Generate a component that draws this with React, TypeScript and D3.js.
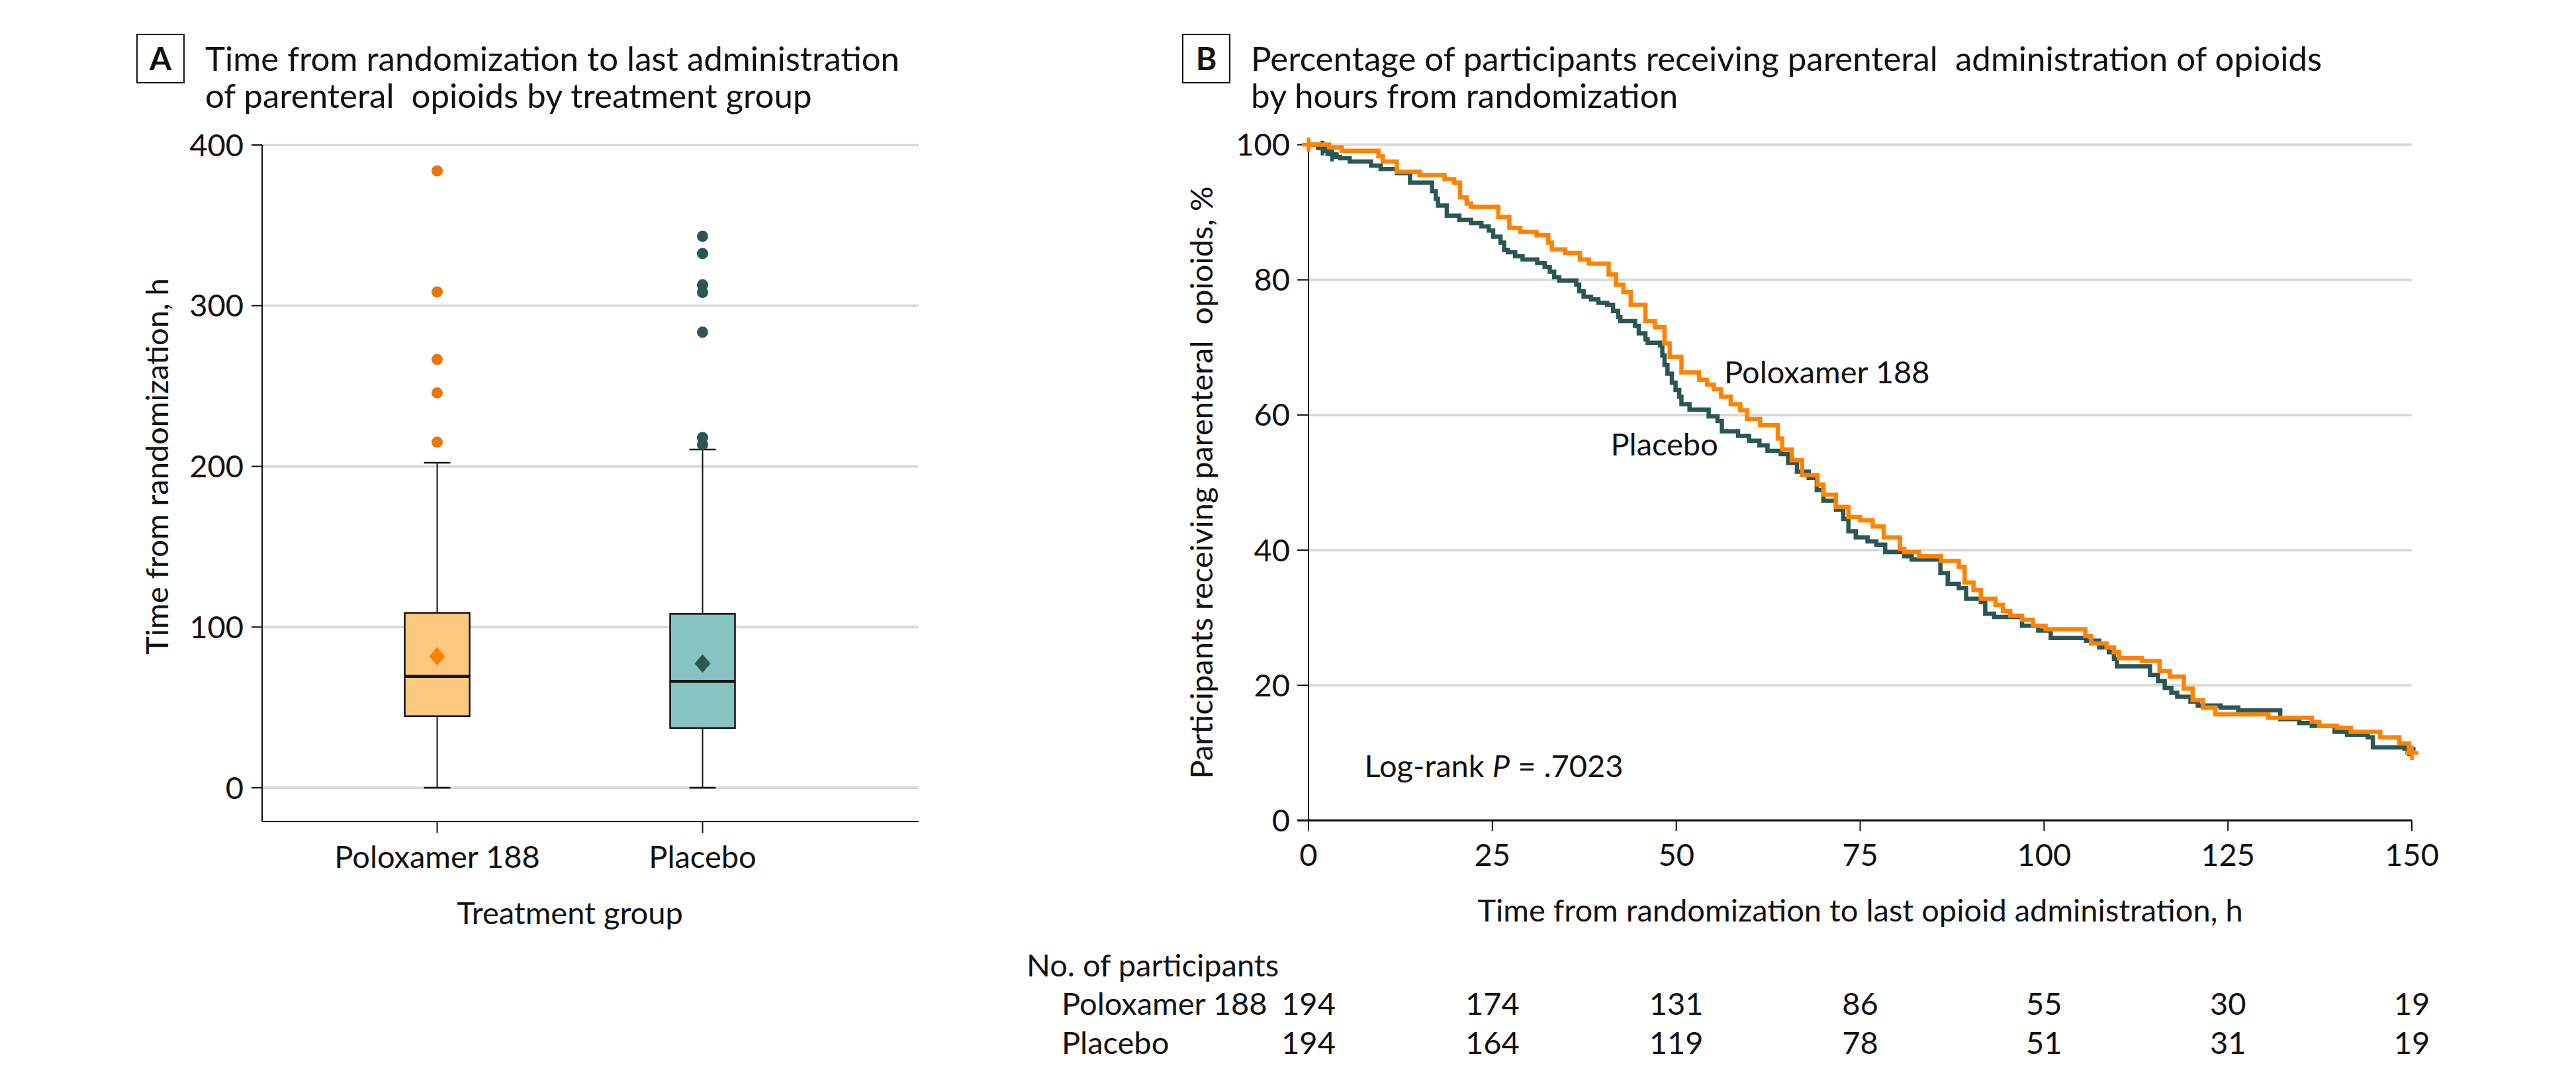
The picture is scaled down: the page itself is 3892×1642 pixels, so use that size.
import React from "react";
import * as d3 from "d3";

const W = 3892;
const H = 1642;
const FONT = "Lato, 'Open Sans', sans-serif";

// ---------- Panel A data ----------
const groups = ["Poloxamer 188", "Placebo"];
const q1 = [44.6, 37.2];
const medians = [69.3, 66.2];
const q3 = [108.8, 108.2];
const whiskerLow = [0, 0];
const whiskerHigh = [202.3, 210.5];
const means = [81.8, 77.3];
const outliersPolox = [383.8, 308.5, 266.5, 245.7, 215.0];
const outliersPlacebo = [343.2, 332.4, 313.0, 308.2, 283.5, 217.9, 213.6];
const yTicksA = [0, 100, 200, 300, 400];

// ---------- Panel B data ----------
const polTimes = [0, 2.8, 4.5, 9.5, 10.1, 12.0, 15.1, 18.5, 19.8, 20.6, 21.5, 22.1, 25.8, 27.3, 28.8, 31.0, 32.6, 33.1, 34.9, 36.9, 38.1, 40.8, 41.8, 42.8, 43.8, 45.8, 47.1, 48.4, 49.1, 50.7, 53.1, 54.2, 55.1, 56.1, 57.4, 58.7, 59.6, 61.4, 63.8, 64.4, 65.7, 67.1, 69.2, 70.0, 71.7, 73.4, 75.0, 76.7, 78.2, 80.4, 81.0, 83.0, 86.0, 88.4, 89.2, 90.4, 91.4, 93.4, 94.4, 95.4, 97.0, 98.5, 100.2, 105.6, 106.4, 108.5, 109.5, 110.2, 113.3, 115.7, 117.1, 119.0, 120.2, 121.6, 123.3, 130.5, 136.4, 137.4, 139.8, 141.7, 145.7, 148.3, 149.6];
const polPct = [100, 99.6, 99.1, 98.3, 97.5, 96.0, 95.5, 94.9, 94.4, 92.2, 91.3, 90.8, 89.3, 87.7, 87.1, 86.6, 85.5, 84.5, 84.0, 83.0, 82.4, 80.8, 79.3, 78.2, 76.3, 73.9, 73.0, 70.6, 68.6, 66.3, 65.2, 64.5, 63.8, 62.7, 61.6, 60.7, 59.4, 58.5, 56.5, 54.9, 53.3, 51.1, 49.7, 48.2, 46.4, 44.9, 44.4, 43.5, 41.9, 40.2, 39.7, 39.1, 38.4, 37.5, 35.2, 34.1, 32.8, 31.9, 31.0, 30.3, 29.7, 28.8, 28.3, 27.3, 26.2, 25.6, 24.9, 24.0, 23.6, 22.1, 21.3, 19.5, 17.8, 16.7, 15.7, 15.2, 14.6, 14.0, 13.7, 13.1, 12.3, 11.4, 10.0];
const plaTimes = [0, 1.5, 2.4, 3.0, 3.6, 4.3, 5.6, 8.5, 9.8, 12.0, 13.8, 16.8, 17.3, 17.6, 18.8, 20.5, 22.1, 23.5, 24.5, 25.1, 26.1, 26.6, 27.1, 28.1, 29.1, 31.1, 32.1, 32.8, 33.4, 34.1, 36.4, 36.8, 37.4, 38.4, 39.4, 40.6, 41.4, 42.1, 42.4, 44.4, 44.9, 45.8, 46.1, 47.8, 48.1, 48.4, 48.8, 49.4, 49.9, 50.4, 50.7, 51.8, 54.4, 55.6, 56.2, 58.4, 59.9, 61.3, 62.4, 64.2, 65.2, 66.4, 68.0, 69.1, 70.0, 71.7, 72.7, 73.4, 74.4, 76.0, 77.2, 78.4, 81.0, 82.0, 85.9, 86.9, 88.4, 89.4, 91.4, 92.0, 93.2, 97.0, 99.2, 100.9, 105.7, 107.5, 108.8, 109.5, 109.9, 114.4, 115.5, 116.4, 117.3, 118.1, 119.9, 120.9, 124.0, 126.4, 132.1, 134.7, 136.4, 139.5, 141.2, 144.0, 144.7, 149.1];
const plaPct = [100, 99.5, 99.1, 98.6, 98.2, 98.0, 97.5, 96.9, 96.4, 95.8, 94.4, 93.1, 92.0, 91.0, 89.5, 88.9, 88.4, 87.9, 87.3, 86.4, 85.5, 84.4, 84.1, 83.5, 83.0, 82.5, 81.9, 81.2, 80.4, 79.9, 79.3, 78.3, 77.5, 77.1, 76.6, 76.3, 75.4, 74.5, 73.9, 73.2, 72.1, 71.2, 70.7, 70.3, 68.8, 67.4, 66.1, 64.8, 63.7, 62.7, 61.6, 60.8, 59.8, 59.1, 57.6, 56.9, 56.2, 55.5, 54.7, 54.2, 52.9, 51.6, 50.7, 48.9, 47.3, 46.0, 44.6, 42.8, 41.9, 41.3, 40.8, 39.7, 39.1, 38.6, 36.6, 35.0, 34.4, 32.8, 32.3, 30.6, 30.1, 28.8, 28.1, 27.0, 26.6, 25.6, 24.9, 23.9, 22.8, 21.5, 20.6, 19.6, 18.9, 18.3, 17.6, 17.0, 16.7, 16.3, 15.0, 14.4, 14.0, 13.1, 12.7, 12.3, 10.8, 10.6];
const polCensor = [0, 150];
const plaCensor = [1.9, 3.2, 149.6];
const xTicksB = [0, 25, 50, 75, 100, 125, 150];
const yTicksB = [0, 20, 40, 60, 80, 100];
const riskPolox = [194, 174, 131, 86, 55, 30, 19];
const riskPlacebo = [194, 164, 119, 78, 51, 31, 19];

// ---------- colours ----------
const ORANGE = "#FF8200";
const ORANGE_DOT = "#E8760E";
const ORANGE_FILL = "#FFC87F";
const TEAL = "#2A5753";
const TEAL_FILL = "#86C3C1";
const GRID = "#D9D9D9";
const INK = "#111";

function stepValue(times: number[], pcts: number[], t: number) {
  let v = pcts[0];
  for (let i = 0; i < times.length; i++) if (times[i] <= t) v = pcts[i];
  return v;
}

export default function App() {
  // Panel A scales
  const yA = d3.scaleLinear().domain([0, 400]).range([1190, 219]);
  const xA = d3.scalePoint<string>().domain(groups).range([660.5, 1061.5]);
  const A_LEFT = 396, A_RIGHT = 1388, A_BOTTOM = 1241;
  const boxW = 98, capW = 40;
  const fills = [ORANGE_FILL, TEAL_FILL];
  const dotCols = [ORANGE_DOT, TEAL];
  const meanCols = [ORANGE, TEAL];
  const outliers = [outliersPolox, outliersPlacebo];

  // Panel B scales
  const xB = d3.scaleLinear().domain([0, 150]).range([1977, 3644]);
  const yB = d3.scaleLinear().domain([0, 100]).range([1239.3, 218.6]);
  const line = d3
    .line<[number, number]>()
    .x((d) => xB(d[0]))
    .y((d) => yB(d[1]))
    .curve(d3.curveStepAfter);
  const polPts: [number, number][] = polTimes.map((t, i) => [t, polPct[i]]);
  polPts.push([150, polPct[polPct.length - 1]]);
  const plaPts: [number, number][] = plaTimes.map((t, i) => [t, plaPct[i]]);
  plaPts.push([150, plaPct[plaPct.length - 1]]);

  const plus = (cx: number, cy: number, col: string, key: string) => (
    <g key={key} stroke={col} strokeWidth={5.5}>
      <line x1={cx - 10} x2={cx + 10} y1={cy} y2={cy} />
      <line x1={cx} x2={cx} y1={cy - 11} y2={cy + 11} />
    </g>
  );

  const diamond = (cx: number, cy: number) =>
    `M${cx},${cy - 14}L${cx + 12},${cy}L${cx},${cy + 14}L${cx - 12},${cy}Z`;

  return (
    <svg
      width={W}
      height={H}
      viewBox={`0 0 ${W} ${H}`}
      style={{ position: "absolute", left: 0, top: 0, background: "#fff" }}
      fontFamily={FONT}
    >
      <rect x={0} y={0} width={W} height={H} fill="#fff" />

      {/* ===== Panel A ===== */}
      <rect x={207} y={52} width={71} height={73} fill="none" stroke={INK} strokeWidth={2} />
      <text x={242.5} y={106} textAnchor="middle" fontSize={48} fontWeight={700} fill={INK}>A</text>
      <text x={310} y={107} fontSize={51} fill={INK} style={{ whiteSpace: "pre" }}>
        Time from randomization to last administration
      </text>
      <text x={310} y={163} fontSize={51} fill={INK} style={{ whiteSpace: "pre" }}>
        {"of parenteral  opioids by treatment group"}
      </text>

      {yTicksA.map((t) => (
        <g key={"ga" + t}>
          <line x1={A_LEFT} x2={A_RIGHT} y1={yA(t)} y2={yA(t)} stroke={GRID} strokeWidth={4} />
          <line x1={A_LEFT - 16} x2={A_LEFT} y1={yA(t)} y2={yA(t)} stroke={INK} strokeWidth={2} />
          <text x={368} y={yA(t) + 16.5} textAnchor="end" fontSize={47} fill={INK}>{t}</text>
        </g>
      ))}
      <line x1={A_LEFT} x2={A_LEFT} y1={yA(400)} y2={A_BOTTOM} stroke={INK} strokeWidth={2} />
      <line x1={A_LEFT} x2={A_RIGHT} y1={A_BOTTOM} y2={A_BOTTOM} stroke={INK} strokeWidth={2} />

      {groups.map((g, i) => {
        const cx = xA(g) as number;
        return (
          <g key={"box" + g}>
            <line x1={cx} x2={cx} y1={A_BOTTOM} y2={A_BOTTOM + 17} stroke={INK} strokeWidth={2} />
            <text x={cx} y={1311} textAnchor="middle" fontSize={47} fill={INK}>{g}</text>
            <line x1={cx} x2={cx} y1={yA(whiskerLow[i])} y2={yA(q1[i])} stroke={INK} strokeWidth={2} />
            <line x1={cx} x2={cx} y1={yA(q3[i])} y2={yA(whiskerHigh[i])} stroke={INK} strokeWidth={2} />
            <line x1={cx - capW / 2} x2={cx + capW / 2} y1={yA(whiskerLow[i])} y2={yA(whiskerLow[i])} stroke={INK} strokeWidth={2.5} />
            <line x1={cx - capW / 2} x2={cx + capW / 2} y1={yA(whiskerHigh[i])} y2={yA(whiskerHigh[i])} stroke={INK} strokeWidth={2.5} />
            <rect
              x={cx - boxW / 2}
              y={yA(q3[i])}
              width={boxW}
              height={yA(q1[i]) - yA(q3[i])}
              fill={fills[i]}
              stroke={INK}
              strokeWidth={2.5}
            />
            <line x1={cx - boxW / 2} x2={cx + boxW / 2} y1={yA(medians[i])} y2={yA(medians[i])} stroke={INK} strokeWidth={4.5} />
            <path d={diamond(cx, yA(means[i]))} fill={meanCols[i]} />
            {outliers[i].map((v, j) => (
              <circle key={j} cx={cx} cy={yA(v)} r={8.5} fill={dotCols[i]} />
            ))}
          </g>
        );
      })}
      <text x={861} y={1396} textAnchor="middle" fontSize={47} fill={INK}>Treatment group</text>
      <text
        transform={`translate(254, ${(yA(0) + yA(400)) / 2}) rotate(-90)`}
        textAnchor="middle"
        fontSize={47}
        fill={INK}
      >
        Time from randomization, h
      </text>

      {/* ===== Panel B ===== */}
      <rect x={1787} y={52} width={71} height={73} fill="none" stroke={INK} strokeWidth={2} />
      <text x={1822.5} y={106} textAnchor="middle" fontSize={48} fontWeight={700} fill={INK}>B</text>
      <text x={1890} y={107} fontSize={51} fill={INK} style={{ whiteSpace: "pre" }}>
        {"Percentage of participants receiving parenteral  administration of opioids"}
      </text>
      <text x={1890} y={163} fontSize={51} fill={INK}>by hours from randomization</text>

      {yTicksB.map((t) => (
        <g key={"gb" + t}>
          <line x1={xB(0)} x2={xB(150)} y1={yB(t)} y2={yB(t)} stroke={GRID} strokeWidth={4} />
          <line x1={xB(0) - 17} x2={xB(0)} y1={yB(t)} y2={yB(t)} stroke={INK} strokeWidth={2} />
          <text x={1949} y={yB(t) + 16.5} textAnchor="end" fontSize={47} fill={INK}>{t}</text>
        </g>
      ))}
      <line x1={xB(0)} x2={xB(0)} y1={yB(100)} y2={yB(0) + 16} stroke={INK} strokeWidth={2} />
      <line x1={xB(0) - 17} x2={xB(150)} y1={yB(0)} y2={yB(0)} stroke={INK} strokeWidth={3} />
      {xTicksB.map((t, i) => (
        <g key={"xb" + t}>
          <line x1={xB(t)} x2={xB(t)} y1={yB(0)} y2={yB(0) + 16} stroke={INK} strokeWidth={2} />
          <text x={xB(t)} y={1308} textAnchor="middle" fontSize={47} fill={INK}>{t}</text>
          <text x={xB(t)} y={1533} textAnchor="middle" fontSize={47} fill={INK}>{riskPolox[i]}</text>
          <text x={xB(t)} y={1592} textAnchor="middle" fontSize={47} fill={INK}>{riskPlacebo[i]}</text>
        </g>
      ))}

      <path d={line(plaPts) || ""} fill="none" stroke={TEAL} strokeWidth={6.5} />
      {plaCensor.map((t, i) => plus(xB(t), yB(stepValue(plaTimes, plaPct, t)), TEAL, "pc" + i))}
      <path d={line(polPts) || ""} fill="none" stroke={ORANGE} strokeWidth={6.5} />
      {polCensor.map((t, i) => plus(xB(t), yB(stepValue(polTimes, polPct, t)), ORANGE, "oc" + i))}

      <text x={2605} y={578.5} fontSize={47} fill={INK}>Poloxamer 188</text>
      <text x={2433.5} y={688} fontSize={47} fill={INK}>Placebo</text>
      <text x={2061.6} y={1174} fontSize={47} fill={INK} style={{ whiteSpace: "pre" }}>
        {"Log-rank "}
        <tspan fontStyle="italic">P</tspan>
        {" = .7023"}
      </text>

      <text x={(xB(0) + xB(150)) / 2} y={1392} textAnchor="middle" fontSize={47} fill={INK}>
        Time from randomization to last opioid administration, h
      </text>
      <text
        transform={`translate(1832, ${(yB(0) + yB(100)) / 2}) rotate(-90)`}
        textAnchor="middle"
        fontSize={47}
        fill={INK}
        style={{ whiteSpace: "pre" }}
      >
        {"Participants receiving parenteral  opioids, %"}
      </text>

      <text x={1551} y={1475} fontSize={47} fill={INK}>No. of participants</text>
      <text x={1604} y={1533} fontSize={47} fill={INK}>Poloxamer 188</text>
      <text x={1604} y={1592} fontSize={47} fill={INK}>Placebo</text>
    </svg>
  );
}
